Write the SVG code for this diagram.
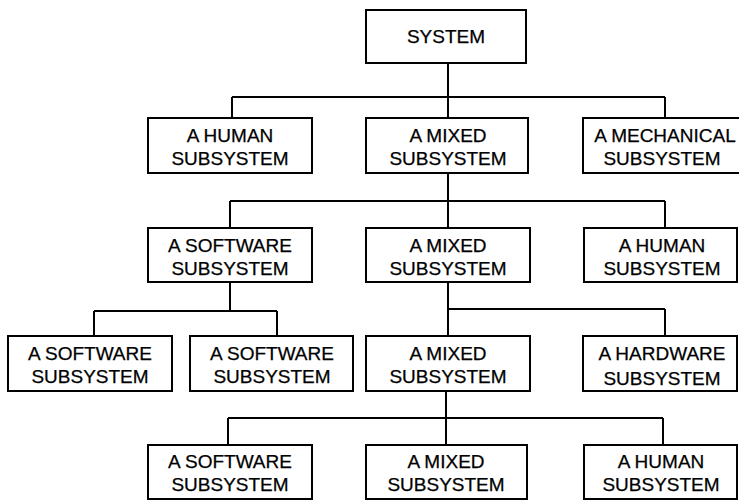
<svg xmlns="http://www.w3.org/2000/svg" width="739" height="500" viewBox="0 0 739 500">
  <style>
    .box { fill: #fff; stroke: #000; stroke-width: 2; }
    .lbl { font-family: "Liberation Sans", Arial, sans-serif; font-size: 19px; fill: #000; text-anchor: middle; stroke: #000; stroke-width: 0.25px; }
    .wire { fill: none; stroke: #000; stroke-width: 2; }
  </style>
  <rect width="739" height="500" fill="#fff"/>

  <!-- connectors -->
  <g id="connectors" class="wire">
    <path d="M448 63V97M232 97H665M232 97V118M448 97V118M665 97V118"/>
    <path d="M448 173V201M230 201H665M230 201V228M448 201V228M665 201V228"/>
    <path d="M230 282V311M94 311H277M94 311V336M277 311V336"/>
    <path d="M448 282V336M448 309H665M665 309V336"/>
    <path d="M446 391V445M228 418H663M228 418V445M663 418V445"/>
  </g>

  <!-- row 0 -->
  <g id="system">
    <rect class="box" x="366" y="10" width="160" height="53"/>
    <text class="lbl" x="446" y="43">SYSTEM</text>
  </g>

  <!-- row 1 -->
  <g id="human-1">
    <rect class="box" x="148" y="118" width="164" height="55"/>
    <text class="lbl" x="230" y="142">A HUMAN</text>
    <text class="lbl" x="230" y="165">SUBSYSTEM</text>
  </g>
  <g id="mixed-1">
    <rect class="box" x="366" y="118" width="162" height="55"/>
    <text class="lbl" x="448" y="142">A MIXED</text>
    <text class="lbl" x="448" y="165">SUBSYSTEM</text>
  </g>
  <g id="mechanical-1">
    <rect class="box" x="583" y="118" width="160" height="55"/>
    <text class="lbl" x="665" y="142">A MECHANICAL</text>
    <text class="lbl" x="662" y="165">SUBSYSTEM</text>
  </g>

  <!-- row 2 -->
  <g id="software-2">
    <rect class="box" x="148" y="228" width="164" height="54"/>
    <text class="lbl" x="230" y="252">A SOFTWARE</text>
    <text class="lbl" x="230" y="275">SUBSYSTEM</text>
  </g>
  <g id="mixed-2">
    <rect class="box" x="366" y="228" width="164" height="54"/>
    <text class="lbl" x="448" y="252">A MIXED</text>
    <text class="lbl" x="448" y="275">SUBSYSTEM</text>
  </g>
  <g id="human-2">
    <rect class="box" x="584" y="228" width="153" height="54"/>
    <text class="lbl" x="662" y="252">A HUMAN</text>
    <text class="lbl" x="662" y="275">SUBSYSTEM</text>
  </g>

  <!-- row 3 -->
  <g id="software-3a">
    <rect class="box" x="8" y="336" width="164" height="55"/>
    <text class="lbl" x="90" y="360">A SOFTWARE</text>
    <text class="lbl" x="90" y="383">SUBSYSTEM</text>
  </g>
  <g id="software-3b">
    <rect class="box" x="190" y="336" width="163" height="55"/>
    <text class="lbl" x="272" y="360">A SOFTWARE</text>
    <text class="lbl" x="272" y="383">SUBSYSTEM</text>
  </g>
  <g id="mixed-3">
    <rect class="box" x="366" y="336" width="164" height="55"/>
    <text class="lbl" x="448" y="360">A MIXED</text>
    <text class="lbl" x="448" y="383">SUBSYSTEM</text>
  </g>
  <g id="hardware-3">
    <rect class="box" x="583" y="336" width="154" height="55"/>
    <text class="lbl" x="662" y="360">A HARDWARE</text>
    <text class="lbl" x="662" y="385">SUBSYSTEM</text>
  </g>

  <!-- row 4 -->
  <g id="software-4">
    <rect class="box" x="148" y="445" width="164" height="54"/>
    <text class="lbl" x="230" y="468">A SOFTWARE</text>
    <text class="lbl" x="230" y="491">SUBSYSTEM</text>
  </g>
  <g id="mixed-4">
    <rect class="box" x="366" y="445" width="161" height="54"/>
    <text class="lbl" x="446" y="468">A MIXED</text>
    <text class="lbl" x="446" y="491">SUBSYSTEM</text>
  </g>
  <g id="human-4">
    <rect class="box" x="584" y="445" width="153" height="54"/>
    <text class="lbl" x="661" y="468">A HUMAN</text>
    <text class="lbl" x="661" y="491">SUBSYSTEM</text>
  </g>
</svg>
